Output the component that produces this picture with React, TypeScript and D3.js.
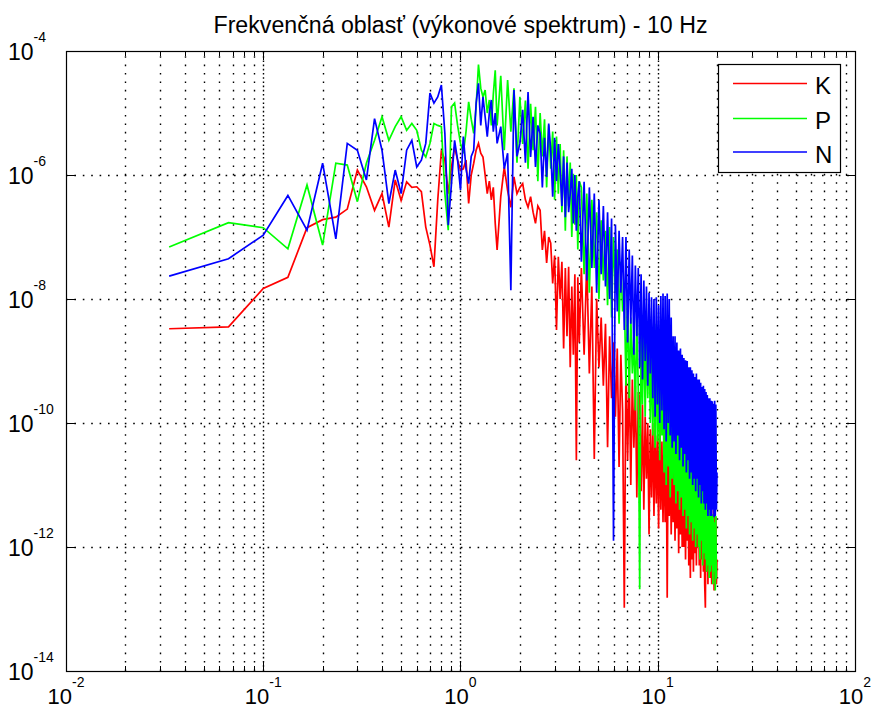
import { line, range, scaleLog } from "d3";

// FFT bins (df = 1/30 Hz); every bin at low f, thinned where the spectrum is dense
const binHz = 1 / 30;
const bins = [...range(1, 46), ...range(46, 121, 2), ...range(123, 600, 4)];

// log10 of power, one value per bin
const logPowerK = [
  -8.48, -8.45, -7.83, -7.65, -6.85, -6.72, -6.68, -6.55, -5.92, -6.19,
  -6.57, -6.3, -6.84, -6.08, -6.41, -6.11, -6.2, -6.19, -6.27, -6.84,
  -7.13, -7.48, -6.41, -5.6, -5.76, -6.3, -5.87, -5.55, -5.76, -5.92,
  -5.9, -5.76, -6.46, -6.0, -5.81, -5.6, -5.49, -5.65, -5.71, -6.0,
  -6.3, -6.1, -6.4, -6.2, -6.78,
  -7.21, -6.35, -5.87, -6.25, -6.52, -6.03, -6.3, -6.2, -6.14, -6.4,
  -6.52, -6.35, -6.6, -6.78, -6.5, -6.57, -7.21, -6.9, -7.42, -7.0,
  -7.1, -7.75, -7.3, -8.5, -7.32, -8.0, -7.4, -8.8, -7.5, -8.6,
  -7.48, -9.1, -7.8, -8.9, -7.6, -10.6, -7.65, -8.7,
  -7.5, -8.9, -7.4, -9.2, -7.8, -10.58, -8.0, -9.1, -8.3, -9.4,
  -8.4, -10.39, -8.6, -9.6, -8.7, -9.9, -8.8, -10.71, -8.9, -9.8,
  -12.98, -9.0, -10.6, -9.2, -11.0, -9.3, -10.4, -9.4, -11.2, -9.5,
  -9.6, -11.1, -9.7, -11.4, -9.9, -10.9, -10.0, -11.8, -10.1, -11.2,
  -10.0, -11.5, -10.1, -11.3, -10.2, -11.7, -10.0, -11.4, -10.3, -11.6,
  -10.2, -11.6, -10.3, -12.82, -10.2, -11.5, -10.4, -11.8, -10.3, -11.6,
  -10.4, -11.9, -10.5, -11.7, -10.4, -12.1, -10.6, -11.8, -10.7, -12.0,
  -10.7, -12.0, -10.8, -12.2, -10.9, -11.9, -10.8, -12.3, -11.0, -12.5,
  -11.0, -12.2, -10.9, -12.4, -11.1, -12.1, -11.0, -12.3, -11.2, -12.0,
  -11.1, -12.3, -11.2, -12.5, -11.1, -12.2, -11.3, -12.4, -11.2, -12.6,
  -12.98, -11.3, -12.4, -11.25, -12.6, -11.4, -12.3, -11.3, -12.5, -11.4,
  -12.6, -11.5, -12.4, -11.4, -12.7, -11.5, -12.3, -11.52, -12.6, -12.2,
];

const logPowerP = [
  -7.16, -6.77, -6.85, -7.19, -6.16, -7.13, -5.81, -5.84, -6.43, -5.81,
  -5.44, -5.06, -5.44, -5.22, -5.06, -5.28, -5.17, -5.28, -5.6, -5.71,
  -5.49, -5.17, -5.2, -5.22, -6.3, -6.89, -4.9, -4.84, -5.2, -5.49,
  -5.65, -5.3, -4.82, -5.1, -5.33, -4.9, -4.22, -4.6, -4.74, -4.63,
  -5.0, -4.79, -5.2, -4.7, -4.31,
  -5.2, -4.4, -5.6, -4.47, -5.3, -4.6, -5.8, -4.74, -5.5, -4.8,
  -5.9, -4.85, -5.6, -4.9, -6.1, -5.0, -5.7, -5.1, -6.2, -5.2,
  -5.9, -5.3, -6.4, -5.38, -6.3, -5.5, -6.6, -5.6, -6.9, -5.7,
  -6.5, -5.8, -7.0, -5.98, -6.8, -6.0, -7.2, -6.1,
  -6.2, -7.6, -6.3, -7.9, -6.4, -7.5, -6.6, -8.0, -6.73, -7.7,
  -6.9, -8.1, -6.84, -8.3, -7.0, -7.9, -7.2, -8.4, -7.4, -8.2,
  -7.9, -9.4, -8.0, -9.6, -8.3, -9.2, -8.6, -9.8, -8.2, -9.5,
  -12.68, -8.13, -9.7, -8.37, -9.9, -8.5, -9.6, -8.6, -10.0, -8.8,
  -10.2, -8.9, -10.4, -8.4, -10.3, -9.0, -10.6, -9.1, -10.2, -9.3,
  -10.8, -9.4, -11.0, -9.6, -10.7, -9.8, -11.2, -9.7, -10.9, -9.5,
  -11.0, -9.48, -11.3, -9.7, -11.1, -9.6, -11.4, -9.8, -11.2, -9.64,
  -11.5, -9.9, -11.4, -10.04, -11.7, -10.1, -11.5, -10.2, -11.8, -10.3,
  -11.6, -10.4, -11.9, -10.5, -11.7, -10.6, -12.0, -10.5, -11.8, -10.69,
  -12.0, -10.8, -12.2, -10.9, -11.9, -11.0, -12.3, -10.9, -12.1, -11.1,
  -12.2, -11.2, -12.4, -11.1, -12.3, -11.3, -12.5, -11.2, -12.4, -11.4,
  -12.3, -11.47, -12.6, -11.5, -12.4, -11.6, -12.7, -11.5, -12.5, -12.5,
];

const logPowerN = [
  -7.63, -7.35, -6.97, -6.33, -6.89, -5.81, -7.03, -5.49, -5.6, -6.08,
  -5.09, -5.6, -6.46, -5.92, -6.3, -5.6, -5.44, -5.87, -5.76, -5.49,
  -4.68, -4.84, -4.74, -4.55, -5.33, -6.81, -6.14, -5.44, -5.76, -6.24,
  -5.38, -5.9, -6.14, -5.7, -5.6, -4.84, -4.52, -5.2, -4.74, -5.06,
  -5.38, -5.0, -4.79, -5.3, -5.0,
  -5.49, -5.22, -5.9, -5.65, -7.86, -4.63, -5.7, -5.49, -4.95, -5.8,
  -4.66, -5.71, -5.06, -5.87, -5.2, -5.33, -6.2, -5.4, -6.03, -5.17,
  -5.6, -6.35, -5.4, -6.1, -5.5, -5.92, -6.5, -5.7, -6.68, -5.8,
  -6.6, -6.3, -5.9, -6.78, -6.0, -6.9, -6.35, -6.1,
  -7.4, -6.11, -7.7, -6.2, -7.5, -6.3, -7.9, -6.4, -7.6, -6.5,
  -7.8, -6.6, -8.0, -6.7, -11.9, -6.8, -8.2, -6.9, -7.9, -7.0,
  -8.5, -7.0, -8.7, -7.2, -8.4, -7.3, -8.9, -7.46, -8.6, -7.5,
  -9.1, -7.6, -9.3, -7.7, -9.0, -7.8, -9.4, -7.9, -9.2, -7.97,
  -9.6, -8.0, -9.9, -7.97, -9.7, -8.1, -10.0, -7.95, -9.8, -7.91,
  -10.1, -7.95, -10.3, -7.91, -10.0, -8.0, -10.2, -8.3, -10.4, -8.6,
  -10.3, -8.6, -10.5, -8.7, -10.2, -8.83, -10.6, -8.8, -10.4, -8.9,
  -10.7, -8.95, -10.5, -8.99, -10.8, -9.0, -10.6, -9.1, -10.9, -9.1,
  -10.8, -9.15, -11.0, -9.2, -10.9, -9.26, -11.1, -9.2, -10.9, -9.3,
  -11.2, -9.3, -11.0, -9.35, -11.3, -9.42, -11.1, -9.4, -11.3, -9.45,
  -11.4, -9.5, -11.3, -9.55, -11.5, -9.6, -11.4, -9.6, -11.5, -9.64,
  -11.5, -9.65, -11.4, -9.69, -11.52, -9.64, -11.5, -9.7, -11.4, -10.8,
];

const seriesNames = ["K", "P", "N"];
const seriesColors = ["#ff0000", "#00ff00", "#0000ff"];
const xTickExps = [-2, -1, 0, 1, 2];
const yTickExps = [-4, -6, -8, -10, -12, -14];
const title = "Frekvenčná oblasť (výkonové spektrum) - 10 Hz";

const W = 873;
const H = 709;
const m = { left: 66, right: 855, top: 51, bottom: 671 };
const font = "'Liberation Sans', Arial, Helvetica, sans-serif";

const App = () => {
  const x = scaleLog().domain([1e-2, 1e2]).range([m.left, m.right]);
  const y = scaleLog().domain([1e-14, 1e-4]).range([m.bottom, m.top]);

  const series = [logPowerK, logPowerP, logPowerN].map((vals) =>
    bins
      .map((k, i) => [k * binHz, vals[i]] as [number, number])
      .filter((d) => d[1] !== undefined)
      .map((d) => [d[0], Math.pow(10, d[1])] as [number, number])
  );
  const path = line<[number, number]>()
    .x((d) => x(d[0]))
    .y((d) => y(d[1]));

  // minor + major x grid positions
  const xGrid: { v: number; major: boolean }[] = [];
  for (let e = -2; e < 2; e++) {
    for (let mm = 1; mm <= 9; mm++) xGrid.push({ v: mm * Math.pow(10, e), major: mm === 1 });
  }
  xGrid.push({ v: 100, major: true });

  const legendLines = [83.5, 118.5, 152];

  return (
    <svg
      width={W}
      height={H}
      style={{ position: "absolute", left: 0, top: 0, background: "#fff" }}
      fontFamily={font}
    >
      <defs>
        <clipPath id="plotClip">
          <rect x={m.left} y={m.top} width={m.right - m.left} height={m.bottom - m.top} />
        </clipPath>
      </defs>
      <rect x={m.left} y={m.top} width={m.right - m.left} height={m.bottom - m.top} fill="#fff" />

      {/* grid */}
      <g stroke="#000" strokeWidth={1.4} fill="none">
        {xGrid
          .filter((g) => g.v > 1e-2 && g.v < 1e2)
          .map((g, i) => (
            <line
              key={`xg-${i}`}
              x1={Math.round(x(g.v)) + 0.5}
              x2={Math.round(x(g.v)) + 0.5}
              y1={m.bottom}
              y2={m.top}
              strokeDasharray={g.major ? "1.6 2.6" : "1.6 6.8"}
            />
          ))}
        {yTickExps
          .filter((e) => e > -14 && e < -4)
          .map((e) => (
            <line
              key={`yg-${e}`}
              x1={m.left}
              x2={m.right}
              y1={Math.round(y(Math.pow(10, e))) + 0.5}
              y2={Math.round(y(Math.pow(10, e))) + 0.5}
              strokeDasharray="1.6 6.8"
            />
          ))}
      </g>

      {/* spectra */}
      <g clipPath="url(#plotClip)" fill="none" strokeWidth={1.7} strokeLinejoin="miter">
        {series.map((d, i) => (
          <path key={seriesNames[i]} d={path(d) ?? ""} stroke={seriesColors[i]} />
        ))}
      </g>

      {/* ticks */}
      <g stroke="#000" strokeWidth={1}>
        {xGrid.map((g, i) => {
          const px = Math.round(x(g.v)) + 0.5;
          const len = g.major ? 9 : 5;
          return (
            <g key={`xt-${i}`}>
              <line x1={px} x2={px} y1={m.bottom} y2={m.bottom - len} />
              <line x1={px} x2={px} y1={m.top} y2={m.top + len} />
            </g>
          );
        })}
        {yTickExps.map((e) => {
          const py = Math.round(y(Math.pow(10, e))) + 0.5;
          return (
            <g key={`yt-${e}`}>
              <line x1={m.left} x2={m.left + 9} y1={py} y2={py} />
              <line x1={m.right} x2={m.right - 9} y1={py} y2={py} />
            </g>
          );
        })}
      </g>

      {/* axes box */}
      <rect
        x={m.left + 0.5}
        y={m.top + 0.5}
        width={m.right - m.left}
        height={m.bottom - m.top}
        fill="none"
        stroke="#000"
        strokeWidth={1.2}
      />

      {/* tick labels */}
      {xTickExps.map((e) => (
        <text key={`xl-${e}`} x={x(Math.pow(10, e))} y={704} textAnchor="middle" fontSize={22} fill="#000">
          <tspan>10</tspan>
          <tspan fontSize={14} dy={-17}>
            {e}
          </tspan>
        </text>
      ))}
      {yTickExps.map((e) => {
        const py = y(Math.pow(10, e));
        return (
          <g key={`yl-${e}`} fill="#000">
            <text x={33.5} y={py + 8.5} textAnchor="end" fontSize={23}>
              10
            </text>
            <text x={33.5} y={py - 9.5} fontSize={14}>
              {e}
            </text>
          </g>
        );
      })}

      {/* title */}
      <text
        x={(m.left + m.right) / 2}
        y={32.5}
        textAnchor="middle"
        fontSize={23}
        textLength={494}
        lengthAdjust="spacingAndGlyphs"
        fill="#000"
      >
        {title}
      </text>

      {/* legend */}
      <g>
        <rect x={718.5} y={64.5} width={122} height={108} fill="#fff" stroke="#000" strokeWidth={1.2} />
        {seriesNames.map((name, i) => (
          <g key={`lg-${name}`}>
            <line x1={733} x2={807} y1={legendLines[i]} y2={legendLines[i]} stroke={seriesColors[i]} strokeWidth={1.7} />
            <text x={815} y={legendLines[i] + 10.5} fontSize={24} fill="#000">
              {name}
            </text>
          </g>
        ))}
      </g>
    </svg>
  );
};

export default App;
